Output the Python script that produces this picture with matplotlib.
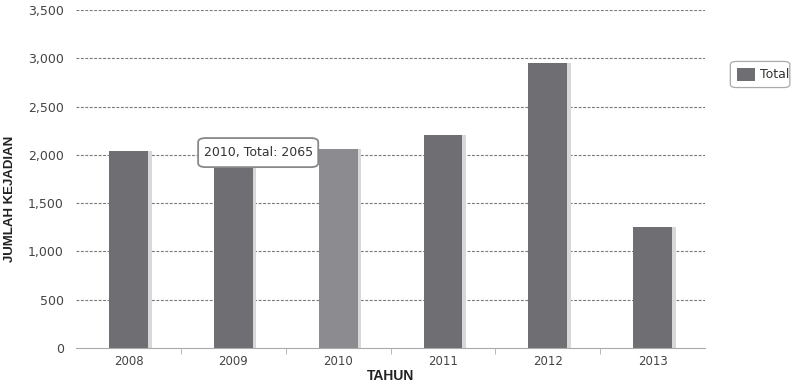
import matplotlib
matplotlib.use("Agg")
import matplotlib.pyplot as plt
from matplotlib.patches import FancyBboxPatch

years = ["2008", "2009", "2010", "2011", "2012", "2013"]
totals = [2040, 2000, 2065, 2200, 2950, 1250]
highlight = "2010"

fig = plt.figure(figsize=(7.93, 3.84), dpi=100)
ax = fig.add_axes([0.096, 0.094, 0.793, 0.880])

x = list(range(len(years)))
colors = ["#8c8c90" if y == highlight else "#6f6f73" for y in years]

# soft drop shadow to the right of each bar
ax.bar([i + 0.03 for i in x], totals, width=0.38, color="#d8d8d8", zorder=1)
ax.bar(x, totals, width=0.37, color=colors, zorder=2)

ax.set_xlim(-0.5, len(years) - 0.5)
ax.set_ylim(0, 3500)
ax.set_yticks(range(0, 3501, 500))
ax.set_yticklabels([f"{v:,}" for v in range(0, 3501, 500)])
ax.set_xticks(x)
ax.set_xticklabels(years)
ax.set_xticks([i + 0.5 for i in x[:-1]], minor=True)

for v in range(500, 3501, 500):
    ax.axhline(v, color="#777777", lw=0.8, ls=(0, (2.5, 1.5)), zorder=0)

for side in ["top", "right", "left"]:
    ax.spines[side].set_visible(False)
ax.spines["bottom"].set_color("#aaaaaa")
ax.tick_params(axis="y", length=0, pad=9, labelsize=9, labelcolor="#444444")
ax.tick_params(axis="x", which="major", length=0, pad=5, labelsize=8.5, labelcolor="#444444")
ax.tick_params(axis="x", which="minor", length=4, color="#aaaaaa")

label_font = ["Liberation Sans Narrow", "Liberation Sans", "DejaVu Sans"]
ax.set_ylabel("JUMLAH KEJADIAN", fontsize=9.5, fontweight="bold", family=label_font,
              color="#222222")
ax.yaxis.set_label_coords(-0.095, 0.44)
ax.set_xlabel("TAHUN", fontsize=10, fontweight="bold", family=label_font,
              color="#222222", labelpad=1)

# hover tooltip for the highlighted year
idx = years.index(highlight)
tip = f"{highlight}, Total: {totals[idx]}"
box = FancyBboxPatch((0.194, 0.535), 0.191, 0.086, transform=ax.transAxes,
                     boxstyle="round,pad=0,rounding_size=0.012",
                     facecolor="white", edgecolor="#888888", lw=1.3, zorder=5)
ax.add_patch(box)
ax.text(0.2895, 0.578, tip, transform=ax.transAxes, ha="center", va="center",
        fontsize=9, color="#333333", zorder=6)

# legend on the right
leg_box = FancyBboxPatch((0.921, 0.772), 0.075, 0.068, transform=fig.transFigure,
                         boxstyle="round,pad=0,rounding_size=0.008",
                         facecolor="white", edgecolor="#aaaaaa", lw=0.9)
fig.patches.append(leg_box)
fig.patches.append(plt.Rectangle((0.930, 0.788), 0.022, 0.036, transform=fig.transFigure,
                                 facecolor="#6f6f73", edgecolor="none"))
fig.text(0.958, 0.806, "Total", fontsize=9, color="#333333", va="center", ha="left")

fig.savefig("out.png", dpi=100)
